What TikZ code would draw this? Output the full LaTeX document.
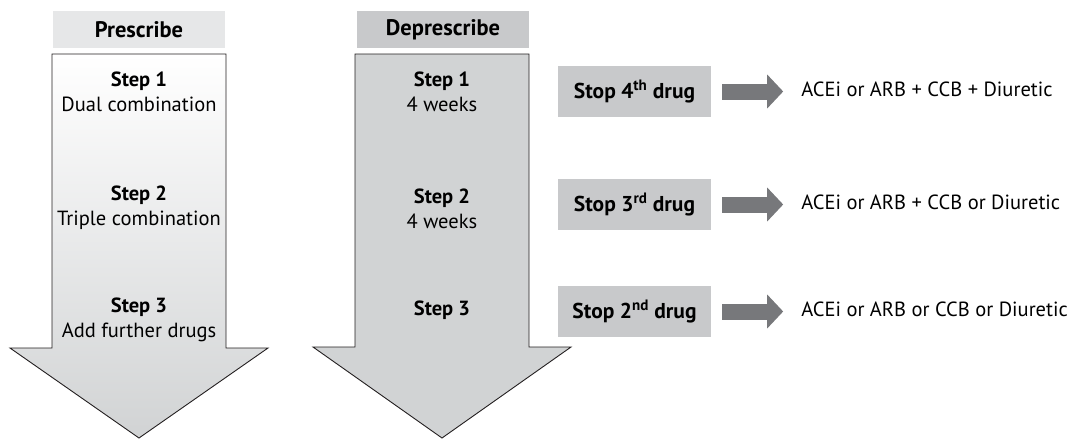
\documentclass[tikz,border=0pt]{standalone}
\usepackage{fontspec}
\setmainfont{PT Sans}
\usetikzlibrary{arrows.meta, positioning}
\definecolor{headlight}{HTML}{E6E7E8}
\definecolor{headdark}{HTML}{C8C9CB}
\definecolor{bodygray}{HTML}{D1D3D4}
\definecolor{blockgray}{HTML}{77787B}
\definecolor{edgegray}{HTML}{231F20}

\begin{document}
\begin{tikzpicture}[
  x=1pt, y=-1pt,
  font=\fontsize{20.5}{25}\selectfont,
  header/.style={minimum width=172pt, minimum height=37pt, inner sep=0pt, font=\fontsize{22.5}{25}\selectfont\bfseries},
  stepnode/.style={align=center, inner sep=0pt},
  stopbox/.style={fill=headdark, minimum width=153pt, minimum height=51pt, inner sep=0pt, font=\fontsize{21.5}{25}\selectfont\bfseries},
  alttext/.style={anchor=west, inner sep=0pt, text height=14pt, text depth=4pt},
  bigarrow/.style={draw=edgegray, line width=0.9pt, line join=miter},
  blockarrow/.style={blockgray, line width=16pt, -{Triangle[length=16pt, width=33pt]}, shorten <=11pt, shorten >=18pt}
]
\useasboundingbox (0,0) rectangle (1072,440);

% column headers
\node[header, fill=headlight] (pre) at (139,29.5) {Prescribe};
\node[header, fill=headdark] (depre) at (443,29.5) {Deprescribe};

% big arrows
\shade[bigarrow, top color=white, bottom color=bodygray]
  (52,54) -- (226,54) -- (226,348) -- (268,348) -- (139,438) -- (10,348) -- (52,348) -- cycle;
\filldraw[bigarrow, fill=bodygray]
  (355,54) -- (529,54) -- (529,347) -- (571,347) -- (442,438) -- (313,347) -- (355,347) -- cycle;

% prescribe steps
\node[stepnode] (pre1) at (139,92) {\textbf{Step 1}\\Dual combination};
\node[stepnode] (pre2) at (139,208) {\textbf{Step 2}\\Triple combination};
\node[stepnode] (pre3) at (139,320) {\textbf{Step 3}\\Add further drugs};

% deprescribe steps
\node[stepnode] (dep1) at (442,92) {\textbf{Step 1}\\4 weeks};
\node[stepnode] (dep2) at (442,209) {\textbf{Step 2}\\4 weeks};
\node[stepnode] (dep3) at (442,310) {\textbf{Step 3}};

% stop boxes and what remains
\node[stopbox] (stop4) at (634.5,91.5) {Stop 4\textsuperscript{th} drug};
\node[stopbox] (stop3) at (634.5,204.5) {Stop 3\textsuperscript{rd} drug};
\node[stopbox] (stop2) at (634.5,311.5) {Stop 2\textsuperscript{nd} drug};

\node[alttext, right=90pt of stop4] (alt4) {ACEi or ARB + CCB + Diuretic};
\node[alttext, right=90pt of stop3] (alt3) {ACEi or ARB + CCB or Diuretic};
\node[alttext, right=90pt of stop2] (alt2) {ACEi or ARB or CCB or Diuretic};

\draw[blockarrow] (stop4) -- (alt4);
\draw[blockarrow] (stop3) -- (alt3);
\draw[blockarrow] (stop2) -- (alt2);
\end{tikzpicture}
\end{document}
